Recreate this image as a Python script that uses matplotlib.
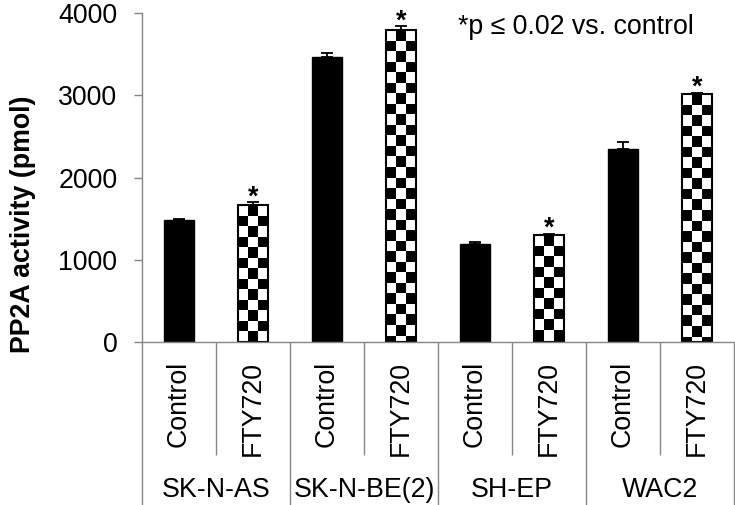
import numpy as np
import matplotlib
matplotlib.use("Agg")
import matplotlib.pyplot as plt

plt.rcParams['font.family'] = ['Liberation Sans', 'DejaVu Sans']

# data
groups = ['SK-N-AS', 'SK-N-BE(2)', 'SH-EP', 'WAC2']
treatments = ['Control', 'FTY720']
control_vals = [1479, 3467, 1196, 2343]
control_err = [20, 45, 15, 85]
fty_vals = [1664, 3790, 1297, 3010]
fty_err = [36, 50, 20, 20]
fty_signif = [True, True, True, True]
yticks = [0, 1000, 2000, 3000, 4000]
note = '*p \u2264 0.02 vs. control'

gray = '#868686'
fs = 19.3

fig = plt.figure(figsize=(7.35, 5.05), dpi=100)
W, H = 735.0, 505.0
ax = fig.add_axes([142 / W, 1 - 342 / H, 592 / W, 329 / H])

n = len(groups)
xc = np.arange(n) * 2.0
xf = xc + 1.0
bw = 0.4

ax.bar(xc, control_vals, bw, color='black', edgecolor='black', linewidth=1.0, zorder=2)
ax.errorbar(xc, control_vals, yerr=[np.zeros(n), control_err], fmt='none',
            ecolor='black', elinewidth=1.3, capsize=4, capthick=1.3, zorder=3)

fbars = ax.bar(xf, fty_vals, bw, facecolor='none', edgecolor='black', linewidth=1.5, zorder=2.2)
ax.errorbar(xf, fty_vals, yerr=[np.zeros(n), fty_err], fmt='none',
            ecolor='black', elinewidth=1.3, capsize=4, capthick=1.3, zorder=3)

# checkerboard fill, clipped to each bar
cell = 128.0  # data units per checker row
for p in fbars:
    x0, w, h = p.get_x(), p.get_width(), p.get_height()
    nrows = int(np.ceil(h / cell))
    arr = (np.add.outer(np.arange(nrows), np.arange(3)) % 2).astype(float)
    im = ax.imshow(arr, cmap='gray_r', vmin=0, vmax=1, origin='upper',
                   extent=(x0, x0 + w, h - nrows * cell, h), aspect='auto',
                   interpolation='nearest', zorder=2.1)
    im.set_clip_path(p)

# significance stars
for x, v, e, s in zip(xf, fty_vals, fty_err, fty_signif):
    if s:
        ax.annotate('*', (x, v + e), xytext=(0, -1.5), textcoords='offset points',
                    ha='center', va='baseline', fontsize=fs, fontweight='bold')

ax.set_xlim(-0.5, 2 * n - 0.5)
ax.set_ylim(0, 4000)
ax.set_yticks(yticks)
ax.tick_params(axis='y', direction='out', length=5.8, width=1, color=gray, pad=12, labelsize=fs)

# category separators as ticks
ax.set_xticks(np.arange(n + 1) * 2.0 - 0.5)
ax.set_xticks(np.arange(n) * 2.0 + 0.5, minor=True)
ax.set_xticklabels([])
ax.tick_params(axis='x', which='major', direction='out', length=125, width=1, color=gray)
ax.tick_params(axis='x', which='minor', direction='out', length=81.5, width=1, color=gray)

for side in ['top', 'right']:
    ax.spines[side].set_visible(False)
for side in ['left', 'bottom']:
    ax.spines[side].set_color(gray)
    ax.spines[side].set_linewidth(1)

tr = ax.get_xaxis_transform()
for i in range(n):
    ax.text(xc[i], -0.058, treatments[0], transform=tr, rotation=90,
            ha='center', va='top', fontsize=fs)
    ax.text(xf[i], -0.058, treatments[1], transform=tr, rotation=90,
            ha='center', va='top', fontsize=fs)
    ax.text((xc[i] + xf[i]) / 2, -0.47, groups[i], transform=tr,
            ha='center', va='baseline', fontsize=fs)

fig.text(23 / W, 1 - 224 / H, 'PP2A activity (pmol)', rotation=90,
         ha='center', va='center', fontsize=fs, fontweight='bold')
fig.text(458 / W, 1 - 33.5 / H, note, ha='left', va='baseline', fontsize=fs)

fig.savefig('out.png', dpi=100)
